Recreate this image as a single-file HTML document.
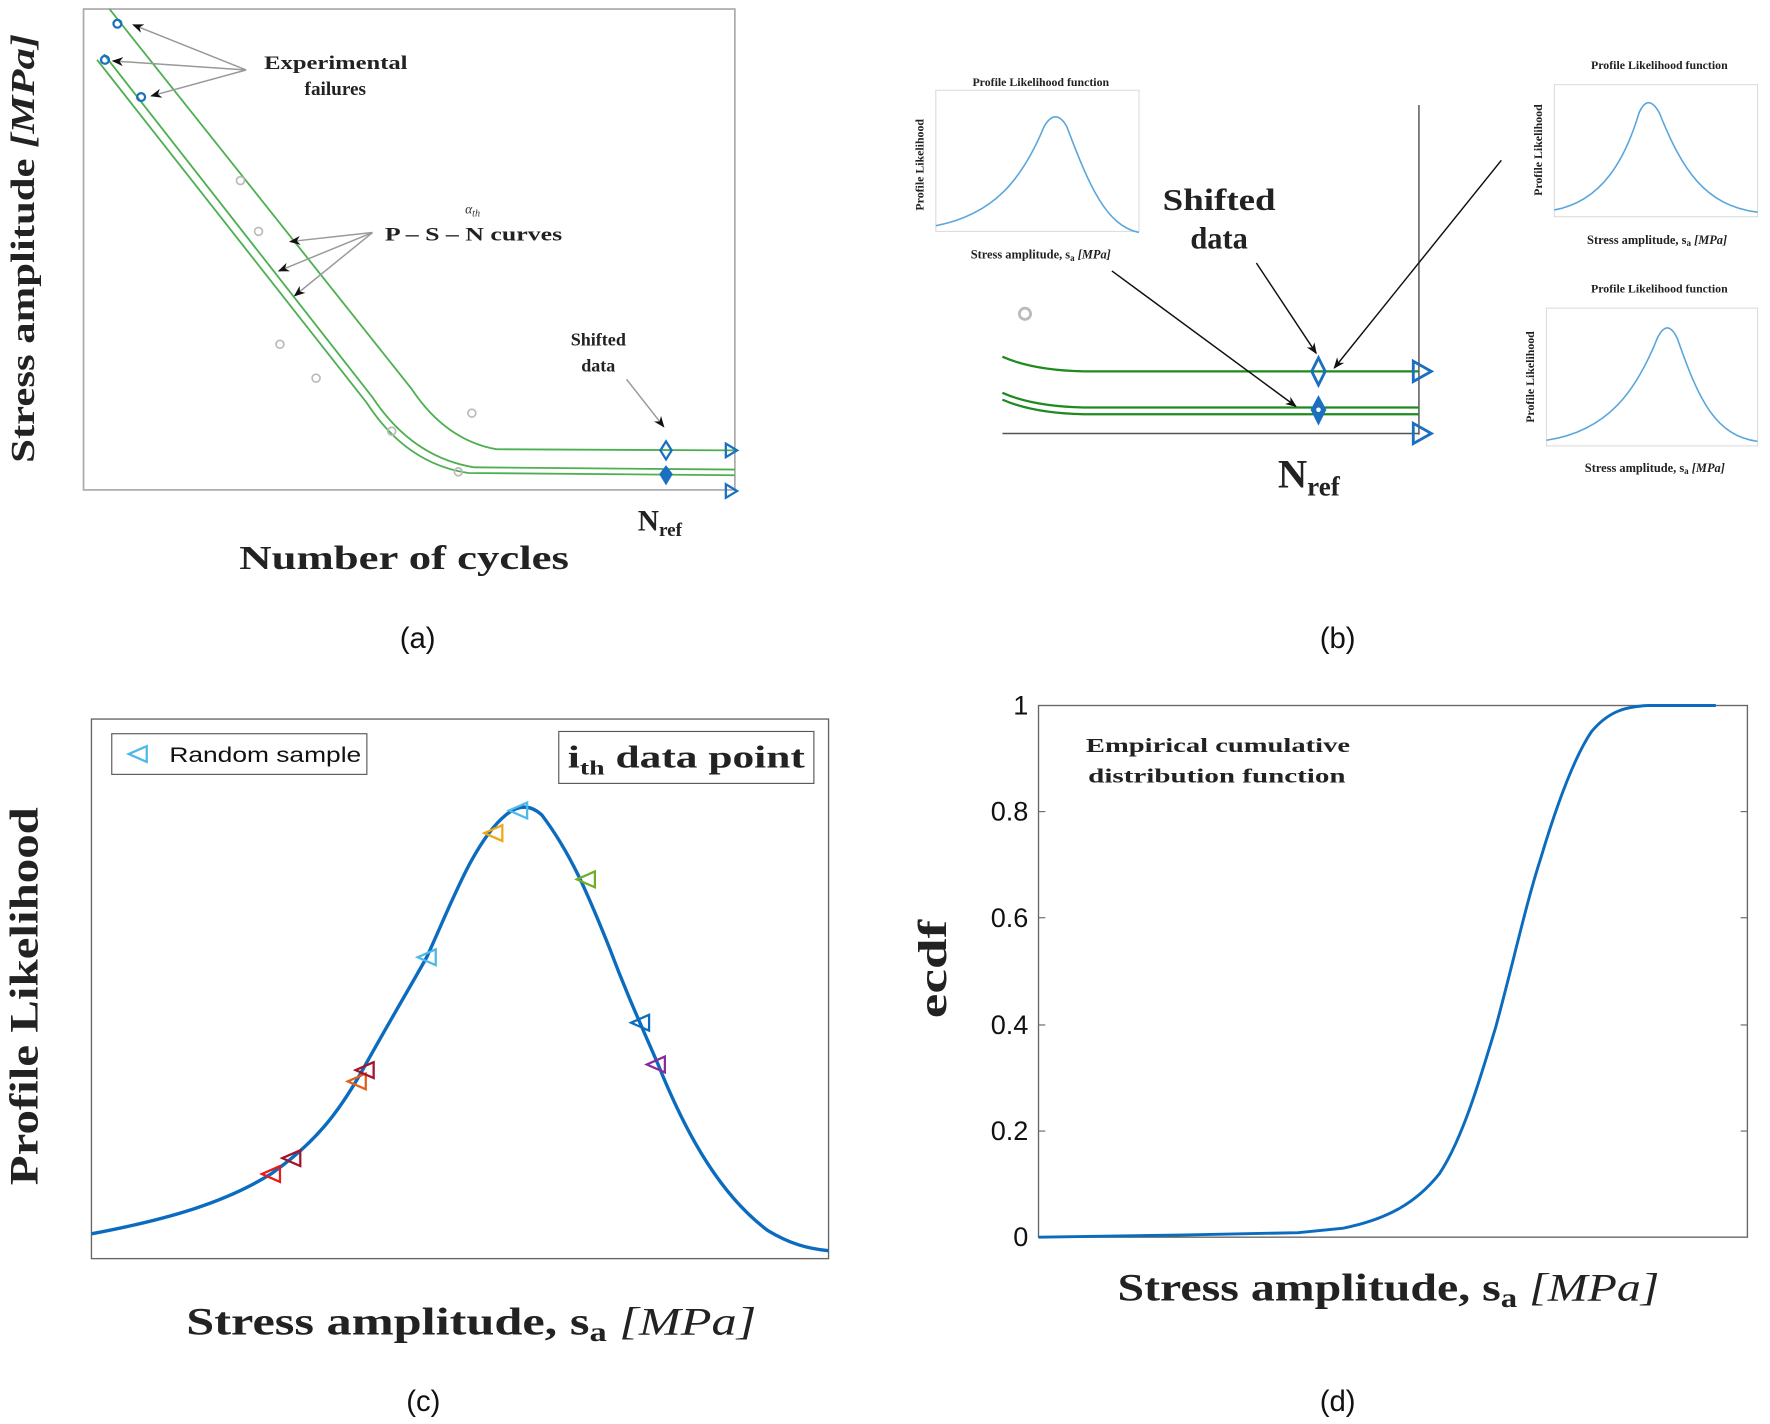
<!DOCTYPE html>
<html><head><meta charset="utf-8"><style>
html,body{margin:0;padding:0;background:#fff;width:1770px;height:1424px;overflow:hidden}
svg{display:block}
.s{font-family:"Liberation Serif",serif;font-weight:bold;fill:#222}
.n{font-family:"Liberation Sans",sans-serif;fill:#111}
</style></head><body>
<svg width="1770" height="1424" viewBox="0 0 1568 1261.5" xmlns="http://www.w3.org/2000/svg">
<defs>
<marker id="ah" markerWidth="10" markerHeight="8" refX="9" refY="4" orient="auto" markerUnits="userSpaceOnUse"><path d="M0,0 L10,4 L0,8 L3,4 Z" fill="#111"/></marker>
</defs>
<!-- ===== Panel (a) ===== -->
<rect x="74" y="8" width="577" height="426" fill="none" stroke="#aaa" stroke-width="1.5"/>
<g fill="none" stroke="#4caf50" stroke-width="1.6">
<path d="M97,8 L365,345 Q395,390 440,398 L651,399"/>
<path d="M92,48 L330,352 Q365,405 420,414 L651,416"/>
<path d="M86,53 L325,357 Q360,411 415,419 L651,421"/>
</g>
<g fill="none" stroke="#bbb" stroke-width="1.5">
<circle cx="213" cy="160" r="3.5"/><circle cx="229" cy="205" r="3.5"/><circle cx="248" cy="305" r="3.5"/>
<circle cx="280" cy="335" r="3.5"/><circle cx="347" cy="382" r="3.5"/><circle cx="418" cy="366" r="3.5"/>
<circle cx="406" cy="418" r="3.5"/>
</g>
<g fill="none" stroke="#1a6fc0" stroke-width="2">
<circle cx="104" cy="21" r="3.5"/><circle cx="93" cy="53" r="3.5"/><circle cx="125" cy="86" r="3.5"/>
<path d="M590,391 L595,399 L590,407 L585,399 Z"/>
<path d="M643,393 L653,399 L643,405 Z"/><path d="M643,429 L653,435 L643,441 Z"/>
</g>
<path d="M590,412 L596,420 L590,430 L584,420 Z" fill="#1a6fc0"/>
<g stroke="#999" stroke-width="1.3" fill="none" marker-end="url(#ah)">
<line x1="218" y1="62" x2="118" y2="22"/><line x1="218" y1="62" x2="100" y2="54"/><line x1="218" y1="62" x2="134" y2="85"/>
<line x1="330" y1="206" x2="257" y2="214"/><line x1="330" y1="206" x2="247" y2="240"/><line x1="330" y1="206" x2="261" y2="262"/>
<line x1="555" y1="336" x2="588" y2="378"/>
</g>
<text class="s" x="234" y="61" font-size="17" textLength="127" lengthAdjust="spacingAndGlyphs">Experimental</text>
<text class="s" x="297" y="84" font-size="17" text-anchor="middle">failures</text>
<text class="s" x="341" y="213" font-size="17" textLength="157" lengthAdjust="spacingAndGlyphs">P – S – N curves</text>
<text x="412" y="189" font-size="12" font-family="Liberation Serif,serif" font-style="italic" fill="#333">α<tspan font-size="9" dy="3">th</tspan></text>
<text class="s" x="530" y="306" font-size="16" text-anchor="middle">Shifted</text>
<text class="s" x="530" y="329" font-size="16" text-anchor="middle">data</text>
<text class="s" x="565" y="470" font-size="26" font-weight="normal">N<tspan font-size="17" dy="5">ref</tspan></text>
<text class="s" x="212" y="504" font-size="30" font-weight="normal" textLength="292" lengthAdjust="spacingAndGlyphs">Number of cycles</text>
<text class="s" transform="translate(30,410) rotate(-90)" font-size="30" font-weight="normal" textLength="380" lengthAdjust="spacingAndGlyphs">Stress amplitude <tspan font-style="italic">[MPa]</tspan></text>
<text class="n" x="370" y="574" font-size="26" text-anchor="middle">(a)</text>

<!-- ===== Panel (b) ===== -->
<line x1="1257" y1="93" x2="1257" y2="385" stroke="#555" stroke-width="1.3"/>
<line x1="888" y1="384" x2="1257" y2="384" stroke="#555" stroke-width="1.3"/>
<g fill="none" stroke="#1f8a1f" stroke-width="2">
<path d="M888,316 Q915,328 960,329 L1257,329"/>
<path d="M888,348 Q915,360 960,361 L1257,361"/>
<path d="M888,354 Q915,366 960,367 L1257,367"/>
</g>
<circle cx="908" cy="278" r="5" fill="none" stroke="#bbb" stroke-width="2.5"/>
<g fill="none" stroke="#1a6fc0" stroke-width="2.5">
<path d="M1168,317 L1174,329 L1168,341 L1162,329 Z"/>
<path d="M1252,320 L1268,329 L1252,338 Z"/><path d="M1252,375 L1268,384 L1252,393 Z"/>
</g>
<path d="M1168,350 L1175,363 L1168,377 L1161,363 Z" fill="#1a6fc0"/>
<circle cx="1168" cy="363" r="2" fill="#fff"/>
<g stroke="#111" stroke-width="1.3" fill="none" marker-end="url(#ah)">
<line x1="1113" y1="233" x2="1166" y2="313"/>
<line x1="1330" y1="142" x2="1182" y2="326"/>
<line x1="985" y1="240" x2="1148" y2="360"/>
</g>
<text class="s" x="1030" y="186" font-size="27" textLength="100" lengthAdjust="spacingAndGlyphs">Shifted</text>
<text class="s" x="1080" y="220" font-size="27" text-anchor="middle">data</text>
<text class="s" x="1132" y="432" font-size="36" font-weight="bold">N<tspan font-size="24" dy="7">ref</tspan></text>
<text class="n" x="1185" y="574" font-size="26" text-anchor="middle">(b)</text>

<!-- insets -->
<g>
<rect x="829" y="80" width="180" height="125" fill="none" stroke="#ddd"/>
<path d="M829,200 C880,190 905,160 925,112 Q935,95 945,112 C965,165 980,200 1009,206" fill="none" stroke="#5aa6dc" stroke-width="1.4"/>
<text class="s" x="922" y="76" font-size="10.5" text-anchor="middle">Profile Likelihood function</text>
<text class="s" transform="translate(818,146) rotate(-90)" font-size="10.5" text-anchor="middle">Profile Likelihood</text>
<text class="s" x="922" y="229" font-size="11" text-anchor="middle" font-weight="normal">Stress amplitude, s<tspan font-size="8" dy="2">a</tspan><tspan dy="-2" font-style="italic"> [MPa]</tspan></text>
</g>
<g>
<rect x="1377" y="75" width="180" height="117" fill="none" stroke="#ddd"/>
<path d="M1377,186 C1420,178 1440,140 1452,100 Q1460,82 1470,100 C1490,150 1510,182 1557,188" fill="none" stroke="#5aa6dc" stroke-width="1.4"/>
<text class="s" x="1470" y="61" font-size="10.5" text-anchor="middle">Profile Likelihood function</text>
<text class="s" transform="translate(1366,133) rotate(-90)" font-size="10.5" text-anchor="middle">Profile Likelihood</text>
<text class="s" x="1468" y="216" font-size="11" text-anchor="middle" font-weight="normal">Stress amplitude, s<tspan font-size="8" dy="2">a</tspan><tspan dy="-2" font-style="italic"> [MPa]</tspan></text>
</g>
<g>
<rect x="1370" y="273" width="187" height="122" fill="none" stroke="#ddd"/>
<path d="M1370,390 C1425,382 1450,345 1468,300 Q1477,281 1486,300 C1505,355 1520,386 1557,391" fill="none" stroke="#5aa6dc" stroke-width="1.4"/>
<text class="s" x="1470" y="259" font-size="10.5" text-anchor="middle">Profile Likelihood function</text>
<text class="s" transform="translate(1359,334) rotate(-90)" font-size="10.5" text-anchor="middle">Profile Likelihood</text>
<text class="s" x="1466" y="418" font-size="11" text-anchor="middle" font-weight="normal">Stress amplitude, s<tspan font-size="8" dy="2">a</tspan><tspan dy="-2" font-style="italic"> [MPa]</tspan></text>
</g>

<!-- ===== Panel (c) ===== -->
<rect x="81" y="637" width="653" height="478" fill="none" stroke="#666" stroke-width="1.2"/>
<path d="M81,1093 C150,1080 200,1065 240,1040 C280,1012 300,985 320,950 C345,905 360,880 378,848 C400,800 420,745 448,722 Q465,708 480,722 C505,755 520,790 540,840 C555,880 567,906 583,943 C610,1010 640,1060 680,1090 C700,1102 715,1106 734,1108" fill="none" stroke="#0b6cbf" stroke-width="3"/>
<g fill="none" stroke-width="2">
<path d="M248,1033 L232,1040 L248,1047 Z" stroke="#e81b1b"/>
<path d="M266,1019 L250,1026 L266,1033 Z" stroke="#a3142b"/>
<path d="M324,951 L308,958 L324,965 Z" stroke="#e0601a"/>
<path d="M331,941 L315,948 L331,955 Z" stroke="#a3142b"/>
<path d="M386,841 L370,848 L386,855 Z" stroke="#4db8ea"/>
<path d="M445,731 L429,738 L445,745 Z" stroke="#efa815"/>
<path d="M467,711 L451,718 L467,725 Z" stroke="#4db8ea"/>
<path d="M527,772 L511,779 L527,786 Z" stroke="#6fae2a"/>
<path d="M575,899 L559,906 L575,913 Z" stroke="#0b6cbf"/>
<path d="M589,936 L573,943 L589,950 Z" stroke="#8b2a9a"/>
</g>
<rect x="99" y="650" width="226" height="36" fill="#fff" stroke="#555" stroke-width="1"/>
<path d="M130,661 L114,668 L130,675 Z" fill="none" stroke="#4db8ea" stroke-width="2"/>
<text class="n" x="150" y="675" font-size="19" textLength="170" lengthAdjust="spacingAndGlyphs">Random sample</text>
<rect x="495" y="648" width="226" height="46" fill="#fff" stroke="#555" stroke-width="1"/>
<text class="s" x="503" y="680" font-size="28" textLength="210" lengthAdjust="spacingAndGlyphs">i<tspan font-size="18" dy="6">th</tspan><tspan dy="-6"> data point</tspan></text>
<text class="s" transform="translate(33,1050) rotate(-90)" font-size="36" textLength="335" lengthAdjust="spacingAndGlyphs">Profile Likelihood</text>
<text class="s" x="165" y="1182" font-size="35" textLength="505" lengthAdjust="spacingAndGlyphs">Stress amplitude, s<tspan font-size="24" dy="6">a</tspan><tspan dy="-6" font-weight="normal" font-style="italic"> [MPa]</tspan></text>
<text class="n" x="375" y="1250" font-size="26" text-anchor="middle">(c)</text>

<!-- ===== Panel (d) ===== -->
<rect x="920" y="625" width="628" height="471" fill="none" stroke="#666" stroke-width="1.2"/>
<g stroke="#666" stroke-width="1">
<line x1="920" y1="719" x2="926" y2="719"/><line x1="920" y1="813" x2="926" y2="813"/><line x1="920" y1="908" x2="926" y2="908"/><line x1="920" y1="1002" x2="926" y2="1002"/>
<line x1="1548" y1="719" x2="1542" y2="719"/><line x1="1548" y1="813" x2="1542" y2="813"/><line x1="1548" y1="908" x2="1542" y2="908"/><line x1="1548" y1="1002" x2="1542" y2="1002"/>
</g>
<g class="n" font-size="24" text-anchor="end">
<text x="911" y="633">1</text><text x="911" y="727">0.8</text><text x="911" y="821">0.6</text>
<text x="911" y="916">0.4</text><text x="911" y="1010">0.2</text><text x="911" y="1104">0</text>
</g>
<path d="M920,1096 L1050,1094 L1150,1092 L1190,1088 C1230,1080 1255,1065 1275,1040 C1295,1010 1310,960 1325,910 C1340,855 1352,800 1365,760 C1380,710 1395,670 1410,648 C1425,630 1440,626 1460,625 L1520,625" fill="none" stroke="#0b6cbf" stroke-width="2.6"/>
<text class="s" x="962" y="666" font-size="18" textLength="234" lengthAdjust="spacingAndGlyphs">Empirical cumulative</text>
<text class="s" x="964" y="693" font-size="18" textLength="228" lengthAdjust="spacingAndGlyphs">distribution function</text>
<text class="s" transform="translate(838,902) rotate(-90)" font-size="36" textLength="87" lengthAdjust="spacingAndGlyphs">ecdf</text>
<text class="s" x="990" y="1152" font-size="35" textLength="480" lengthAdjust="spacingAndGlyphs">Stress amplitude, s<tspan font-size="24" dy="6">a</tspan><tspan dy="-6" font-weight="normal" font-style="italic"> [MPa]</tspan></text>
<text class="n" x="1185" y="1250" font-size="26" text-anchor="middle">(d)</text>
</svg>
</body></html>
